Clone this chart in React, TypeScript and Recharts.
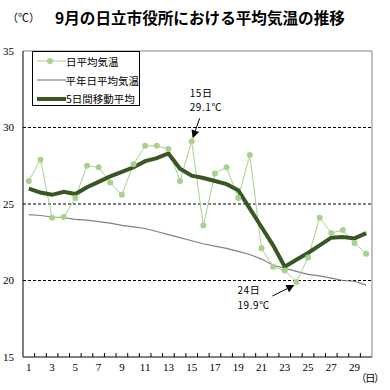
import {
  ComposedChart,
  Line,
  XAxis,
  YAxis,
  ReferenceLine,
  ReferenceDot,
  Legend,
} from 'recharts';

const days = [
  1, 2, 3, 4, 5, 6, 7, 8, 9, 10, 11, 12, 13, 14, 15,
  16, 17, 18, 19, 20, 21, 22, 23, 24, 25, 26, 27, 28, 29, 30,
];
const dailyMean = [
  26.5, 27.9, 24.1, 24.15, 25.4, 27.5, 27.4, 26.4, 25.6, 27.6, 28.8, 28.8, 28.6, 26.5, 29.1,
  23.6, 27.0, 27.4, 25.4, 28.2, 22.1, 20.9, 20.65, 19.9, 21.5, 24.1, 23.1, 23.3, 22.45, 21.75,
];
const normalMean = [
  24.3, 24.25, 24.15, 24.1, 24.0, 23.95, 23.85, 23.75, 23.6, 23.5, 23.4, 23.2, 23.0, 22.8, 22.6,
  22.4, 22.25, 22.1, 21.9, 21.7, 21.4, 21.0, 20.8, 20.6, 20.4, 20.3, 20.15, 20.0, 19.95, 19.7,
];
const movingAvg = [
  26.0, 25.75, 25.6, 25.8, 25.65, 26.1, 26.45, 26.8, 27.1, 27.4, 27.8, 28.0, 28.3, 27.3, 26.85,
  26.7, 26.5, 26.3, 25.9, 24.7, 23.5, 22.3, 20.9, 21.35, 21.8, 22.3, 22.8, 22.85, 22.75, 23.1,
];
const xTickLabels = [1, 3, 5, 7, 9, 11, 13, 15, 17, 19, 21, 23, 25, 27, 29];
const yTicks = [15, 20, 25, 30, 35];
const dashedLines = [20, 25, 30];

const data = days.map((day, i) => ({
  day,
  daily: dailyMean[i],
  normal: normalMean[i],
  avg: movingAvg[i],
}));
// tick marks sit between the days
const boundaryTicks = days.slice(0, -1).map((d) => d + 0.5);

const JP = '"Noto Sans CJK JP", sans-serif';
const SERIF = '"Liberation Serif", serif';

function Arrow({ x1, y1, x2, y2 }: { x1: number; y1: number; x2: number; y2: number }) {
  const a = Math.atan2(y2 - y1, x2 - x1);
  const len = 8;
  const w = 4;
  const bx = x2 - len * Math.cos(a);
  const by = y2 - len * Math.sin(a);
  const px = -Math.sin(a) * w;
  const py = Math.cos(a) * w;
  return (
    <g>
      <line x1={x1} y1={y1} x2={bx} y2={by} stroke="#000" strokeWidth={1} />
      <polygon points={`${x2},${y2} ${bx + px},${by + py} ${bx - px},${by - py}`} fill="#000" />
    </g>
  );
}

const annotText = { fontFamily: JP, fontSize: 10, fill: '#000', letterSpacing: 0.6 };

function PeakNote(props: any) {
  const { cx, cy } = props;
  return (
    <g>
      <text x={cx - 2} y={cy - 44} style={annotText}>15日</text>
      <text x={cx - 2} y={cy - 30} style={annotText}>29.1℃</text>
      <Arrow x1={cx + 8} y1={cy - 23} x2={cx + 1} y2={cy - 3} />
    </g>
  );
}

function LowNote(props: any) {
  const { cx, cy } = props;
  return (
    <g>
      <text x={cx - 59} y={cy + 12} style={annotText}>24日</text>
      <text x={cx - 59} y={cy + 27} style={annotText}>19.9℃</text>
      <Arrow x1={cx - 24} y1={cy + 14} x2={cx - 2} y2={cy + 3} />
    </g>
  );
}

const legendItems = [
  { label: '日平均気温', kind: 'daily' },
  { label: '平年日平均気温', kind: 'normal' },
  { label: '5日間移動平均', kind: 'avg' },
];

function LegendBox() {
  return (
    <div
      style={{
        width: 108,
        height: 55,
        border: '1px solid #000',
        background: '#fff',
        boxSizing: 'border-box',
        fontFamily: JP,
        fontSize: 10.5,
      }}
    >
      {legendItems.map((it) => (
        <div key={it.kind} style={{ display: 'flex', alignItems: 'center', height: 18.7 }}>
          <svg width={33} height={18} style={{ display: 'block' }}>
            {it.kind === 'daily' && (
              <g>
                <line x1={4} y1={9} x2={33} y2={9} stroke="#a9d18e" strokeWidth={1} />
                <circle cx={17} cy={9} r={3} fill="#a9d18e" />
              </g>
            )}
            {it.kind === 'normal' && <line x1={4} y1={9} x2={33} y2={9} stroke="#808080" strokeWidth={1.2} />}
            {it.kind === 'avg' && <line x1={4} y1={9} x2={33} y2={9} stroke="#385723" strokeWidth={4} />}
          </svg>
          <span style={{ whiteSpace: 'nowrap' }}>{it.label}</span>
        </div>
      ))}
    </div>
  );
}

export default function App() {
  return (
    <div style={{ position: 'absolute', left: 0, top: 0, width: 390, height: 390, background: '#fff' }}>
      <div style={{ position: 'absolute', left: 7, top: 9, fontFamily: JP, fontSize: 11 }}>（℃）</div>
      <div
        style={{
          position: 'absolute',
          left: 55,
          top: 6,
          fontFamily: JP,
          fontSize: 15.6,
          fontWeight: 'bold',
          whiteSpace: 'nowrap',
        }}
      >
        9月の日立市役所における平均気温の推移
      </div>
      <div
        style={{
          position: 'absolute',
          left: 356,
          top: 370,
          fontFamily: JP,
          fontSize: 10.5,
          letterSpacing: -1.5,
          whiteSpace: 'nowrap',
        }}
      >
        （日）
      </div>
      <ComposedChart width={390} height={390} data={data} margin={{ top: 51, right: 18, bottom: 9, left: 0 }}>
        <XAxis
          xAxisId="grid"
          type="number"
          dataKey="day"
          domain={[0.5, 30.5]}
          allowDataOverflow
          ticks={boundaryTicks}
          interval={0}
          tick={() => <g />}
          axisLine={false}
          tickLine={{ stroke: '#000' }}
          tickSize={4}
          mirror
          height={1}
        />
        <XAxis
          type="number"
          dataKey="day"
          domain={[0.5, 30.5]}
          ticks={xTickLabels}
          interval={0}
          tickLine={false}
          tickSize={0}
          tickMargin={6}
          height={24}
          axisLine={{ stroke: '#000' }}
          tick={{ fontFamily: SERIF, fontSize: 11, fill: '#000' }}
        />
        <YAxis
          domain={[15, 35]}
          ticks={yTicks}
          width={23}
          tickLine={false}
          tickSize={0}
          tickMargin={9}
          axisLine={{ stroke: '#000' }}
          tick={{ fontFamily: SERIF, fontSize: 11, fill: '#000' }}
        />
        {dashedLines.map((v) => (
          <ReferenceLine key={v} y={v} stroke="#000" strokeDasharray="3 2" />
        ))}
        <ReferenceLine y={35} stroke="#808080" />
        <ReferenceLine x={30.5} stroke="#808080" />
        <Legend
          layout="vertical"
          align="center"
          verticalAlign="middle"
          wrapperStyle={{ left: 32, top: 51, width: 108 }}
          content={() => <LegendBox />}
        />
        <Line
          dataKey="normal"
          stroke="#808080"
          strokeWidth={1.2}
          dot={false}
          isAnimationActive={false}
          name="平年日平均気温"
        />
        <Line
          dataKey="daily"
          stroke="#a9d18e"
          strokeWidth={1}
          dot={{ r: 3, fill: '#a9d18e', stroke: 'none' }}
          isAnimationActive={false}
          name="日平均気温"
        />
        <Line
          dataKey="avg"
          stroke="#385723"
          strokeWidth={4}
          dot={false}
          isAnimationActive={false}
          name="5日間移動平均"
        />
        <ReferenceDot x={15} y={29.1} r={0} shape={PeakNote} />
        <ReferenceDot x={24} y={19.9} r={0} shape={LowNote} />
      </ComposedChart>
    </div>
  );
}
